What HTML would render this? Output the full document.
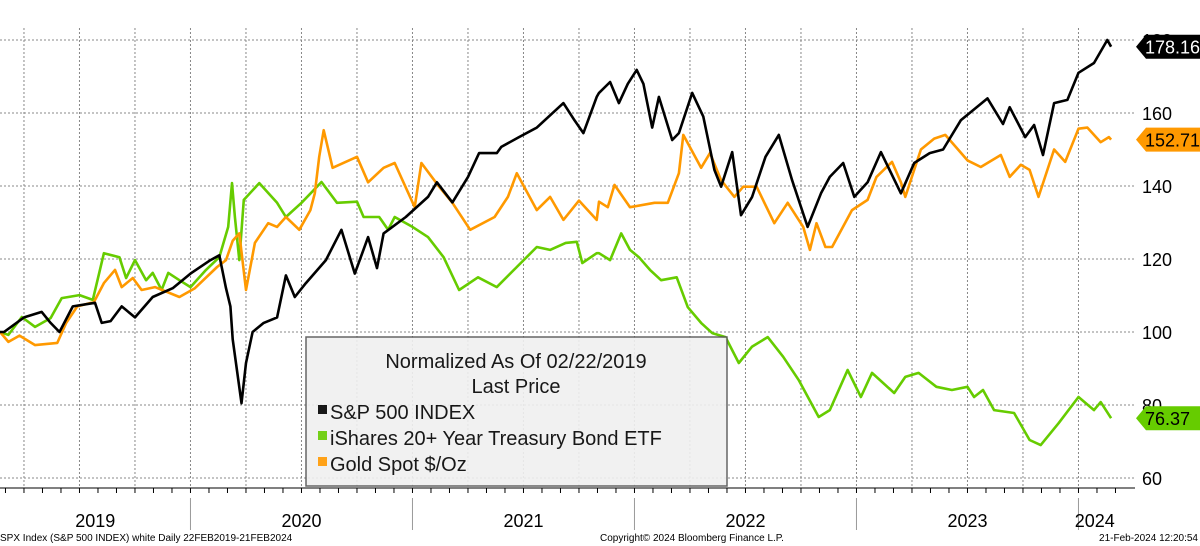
<!DOCTYPE html>
<html><head><meta charset="utf-8"><style>
body{margin:0;background:#fff;width:1200px;height:546px;overflow:hidden;font-family:"Liberation Sans",sans-serif}
svg{position:absolute;left:0;top:0}
</style></head><body>
<svg id="chart" width="1200" height="546" viewBox="0 0 1200 546" xmlns="http://www.w3.org/2000/svg">
<g id="grid"></g>
<g id="series"></g>
<g id="axes"></g>
<g id="legend" opacity="0.9">
 <rect x="306" y="337" width="421" height="149" fill="#f0f0f0" stroke="#555" stroke-width="1.5"/>
 <text x="516" y="368" font-size="20" text-anchor="middle" fill="#000">Normalized As Of 02/22/2019</text>
 <text x="516" y="393" font-size="20" text-anchor="middle" fill="#000">Last Price</text>
 <g><rect x="318" y="405" width="9" height="9" fill="#000"/><text x="330" y="419" font-size="20">S&amp;P 500 INDEX</text></g>
 <g><rect x="318" y="431" width="9" height="9" fill="#66cc00"/><text x="330" y="445" font-size="20">iShares 20+ Year Treasury Bond ETF</text></g>
 <g><rect x="318" y="457" width="9" height="9" fill="#ff9900"/><text x="330" y="471" font-size="20">Gold Spot $/Oz</text></g>
</g>
<g id="tags"></g>
<text x="0" y="541" font-size="10">SPX Index (S&amp;P 500 INDEX) white  Daily 22FEB2019-21FEB2024</text>
<text x="600" y="541" font-size="10">Copyright© 2024 Bloomberg Finance L.P.</text>
<text x="1198" y="541" font-size="10" text-anchor="end">21-Feb-2024 12:20:54</text>
</svg>
<script>
const yTicks=[60,80,100,120,140,160,180];
const yearLabels=["2019","2020","2021","2022","2023","2024"];
const spxDates=[2019.14,2019.16,2019.25,2019.33,2019.37,2019.41,2019.47,2019.57,2019.60,2019.64,2019.69,2019.75,2019.83,2019.92,2020.00,2020.09,2020.13,2020.16,2020.18,2020.19,2020.23,2020.25,2020.28,2020.33,2020.39,2020.43,2020.47,2020.52,2020.61,2020.68,2020.74,2020.80,2020.84,2020.87,2020.97,2021.07,2021.11,2021.18,2021.25,2021.30,2021.38,2021.40,2021.48,2021.56,2021.68,2021.73,2021.77,2021.83,2021.84,2021.89,2021.93,2021.97,2022.01,2022.04,2022.08,2022.11,2022.17,2022.20,2022.26,2022.31,2022.36,2022.39,2022.44,2022.48,2022.53,2022.59,2022.65,2022.71,2022.78,2022.84,2022.88,2022.94,2022.99,2023.05,2023.11,2023.20,2023.26,2023.33,2023.39,2023.47,2023.59,2023.66,2023.69,2023.76,2023.80,2023.84,2023.89,2023.95,2024.00,2024.07,2024.13,2024.147];
const spxValues=[100,100,104,105.5,102.5,100,107,108,102.5,103,107,104,109.6,112,116,119.7,121,112,107,98,80.5,91.5,100,102.5,104,115.5,109.6,113.4,119.7,128,116,126,117.5,127,131.5,137,141,135.5,142.5,149,149,150.7,153.4,156,162.7,158,154.5,164.4,165.5,168.5,162.7,168,171.8,168,156,164.4,152.6,154.5,165.5,159,144.4,139.8,149.3,132,137,148,154,141.6,128.8,138,142.5,146.3,137,141,149.3,138,146.3,149,150,158,164,157,161.6,153.4,156.7,148.5,162.7,163.6,171,173.7,180,178.16];
const goldDates=[2019.142,2019.18,2019.23,2019.30,2019.40,2019.44,2019.49,2019.565,2019.61,2019.66,2019.69,2019.74,2019.78,2019.84,2019.84,2019.95,2020.02,2020.12,2020.16,2020.19,2020.22,2020.25,2020.29,2020.35,2020.39,2020.43,2020.49,2020.54,2020.56,2020.58,2020.60,2020.64,2020.75,2020.80,2020.87,2020.92,2021.01,2021.04,2021.12,2021.18,2021.26,2021.37,2021.43,2021.47,2021.56,2021.62,2021.68,2021.75,2021.83,2021.84,2021.88,2021.91,2021.98,2022.09,2022.15,2022.20,2022.22,2022.30,2022.34,2022.39,2022.45,2022.49,2022.55,2022.63,2022.69,2022.76,2022.79,2022.82,2022.86,2022.89,2022.98,2023.05,2023.09,2023.16,2023.20,2023.22,2023.29,2023.35,2023.40,2023.50,2023.56,2023.65,2023.69,2023.74,2023.78,2023.82,2023.89,2023.94,2024.00,2024.04,2024.10,2024.137,2024.147];
const goldValues=[100,97.3,99,96.4,97,102.5,107,108.2,113.4,117,112.3,114.8,111.5,112.3,112.3,109.6,112,117.8,119.7,125,127,111.5,124.4,129.8,128.8,131.5,128,133.4,138,148,155.3,145,148,141,145,146.3,134.2,146.3,139.8,135.4,128,131.5,137,143.5,133.4,137,130.7,136,130.7,135.7,134.2,140.3,134.2,135.4,135.4,143.5,154,145,149,141.6,137,139.8,139.8,129.8,135.4,128.8,122.5,129.8,123.3,123.3,133.4,136.2,142.5,146.6,141,137,150,153,154,147,145.2,148.5,142.5,145.8,144.4,137,150,146.6,155.7,156,152,153.4,152.71];
const tltDates=[2019.142,2019.18,2019.24,2019.30,2019.37,2019.42,2019.50,2019.56,2019.61,2019.68,2019.71,2019.75,2019.80,2019.83,2019.87,2019.90,2019.95,2020.00,2020.07,2020.13,2020.17,2020.187,2020.20,2020.22,2020.24,2020.31,2020.39,2020.43,2020.50,2020.59,2020.66,2020.75,2020.78,2020.85,2020.89,2020.92,2021.00,2021.07,2021.14,2021.21,2021.295,2021.38,2021.47,2021.56,2021.62,2021.69,2021.74,2021.765,2021.83,2021.84,2021.89,2021.94,2021.98,2022.02,2022.07,2022.12,2022.19,2022.24,2022.30,2022.35,2022.41,2022.47,2022.53,2022.60,2022.67,2022.74,2022.83,2022.88,2022.96,2023.02,2023.07,2023.17,2023.22,2023.28,2023.36,2023.43,2023.50,2023.53,2023.57,2023.62,2023.71,2023.78,2023.83,2023.91,2024.00,2024.07,2024.10,2024.147];
const tltValues=[100,99.2,104.1,101.4,103.8,109.3,110.1,108.8,121.6,120.5,114.8,119.7,114.2,116.2,111.5,116.2,114.2,112.3,117,120.5,128.8,140.8,131.5,119.7,136.2,140.8,135.4,131.5,135.4,141.1,135.4,135.7,131.5,131.5,128,131.5,128.8,126,120.5,111.5,115,112.3,117.8,123.3,122.5,124.4,124.7,118.9,121.6,121.6,119.7,127,122.5,120.5,117,114.2,115,106.8,102.5,99.7,98.6,91.5,96,98.6,93.2,86.8,76.7,78.6,89.6,82.2,88.8,83.3,87.7,88.8,85,84.1,85,82.2,84.1,78.6,77.8,70.4,69,75,82.2,78.6,80.8,76.37];

const NS="http://www.w3.org/2000/svg";
const X0=0,PXY=222,START=2019.142;
function xScale(d){return X0+(d-START)*PXY;}
function yScale(v){return 40+(180-v)*3.65;}
function mk(tag,attrs,parent){const e=document.createElementNS(NS,tag);for(const k in attrs)e.setAttribute(k,attrs[k]);parent.appendChild(e);return e;}
const grid=document.getElementById('grid'),axes=document.getElementById('axes'),series=document.getElementById('series'),tags=document.getElementById('tags');
// horizontal grid + labels
yTicks.forEach(v=>{
 const l=mk('line',{x1:0,x2:1135,y1:yScale(v),y2:yScale(v),stroke:'#888','stroke-width':1,'stroke-dasharray':'2,2'},grid);
 
 
 const t=mk('text',{x:1142,y:yScale(v)+7,'font-size':18,fill:'#000'},axes);
 t.textContent=v;
 
 
});
// vertical quarterly grid
for(let y=2019;y<=2024;y++){for(let q=0;q<4;q++){const d=y+q*0.25;if(d<START||d>2024.1)continue;
 const l=mk('line',{x1:xScale(d),x2:xScale(d),y1:28,y2:488,stroke:'#888','stroke-width':1,'stroke-dasharray':'2,2'},grid);
 
 
}}
// axis line and monthly ticks
mk('line',{x1:0,x2:1135,y1:488,y2:488,stroke:'#000','stroke-width':1},axes);
for(let m=0;m<61;m++){const d=2019+2/12+m/12;const x=xScale(d);if(x>1135)break;mk('line',{x1:x,x2:x,y1:488,y2:493,stroke:'#000','stroke-width':1},axes);}
yearLabels.forEach((yl,i)=>{
 const y=+yl;const s=Math.max(START,y),e=Math.min(2024.147,y+1);
 if(i>0){const sep=mk('line',{x1:xScale(y),x2:xScale(y),y1:498,y2:530,stroke:'#999','stroke-width':1},axes);
  
  }
 const t=mk('text',{x:(xScale(s)+xScale(e))/2,y:527,'font-size':18,'text-anchor':'middle'},axes);
 t.textContent=yl;
 
 
});
function line(dates,vals,color,name){
 const p=mk('polyline',{points:dates.map((d,i)=>xScale(d).toFixed(1)+','+yScale(vals[i]).toFixed(1)).join(' '),fill:'none',stroke:color,'stroke-width':2.6,'stroke-linejoin':'round'},series);
 
 
}
line(tltDates,tltValues,'#66cc00','tlt-line');
line(goldDates,goldValues,'#ff9900','gold-line');
line(spxDates,spxValues,'#000000','spx-line');
function tag(v,bg,fg,name){
 const y=yScale(v);
 const g=mk('g',{},tags);
 
 
 mk('polygon',{points:`1136,${y} 1146,${y-12} 1200,${y-12} 1200,${y+12} 1146,${y+12}`,fill:bg},g);
 const t=mk('text',{x:1145,y:y+7,'font-size':18,fill:fg},g);t.textContent=v.toFixed(2);
}
tag(spxValues[spxValues.length-1],'#000','#fff','spx-last-tag');
tag(goldValues[goldValues.length-1],'#ff9900','#000','gold-last-tag');
tag(tltValues[tltValues.length-1],'#66cc00','#000','tlt-last-tag');
</script>
</body></html>
